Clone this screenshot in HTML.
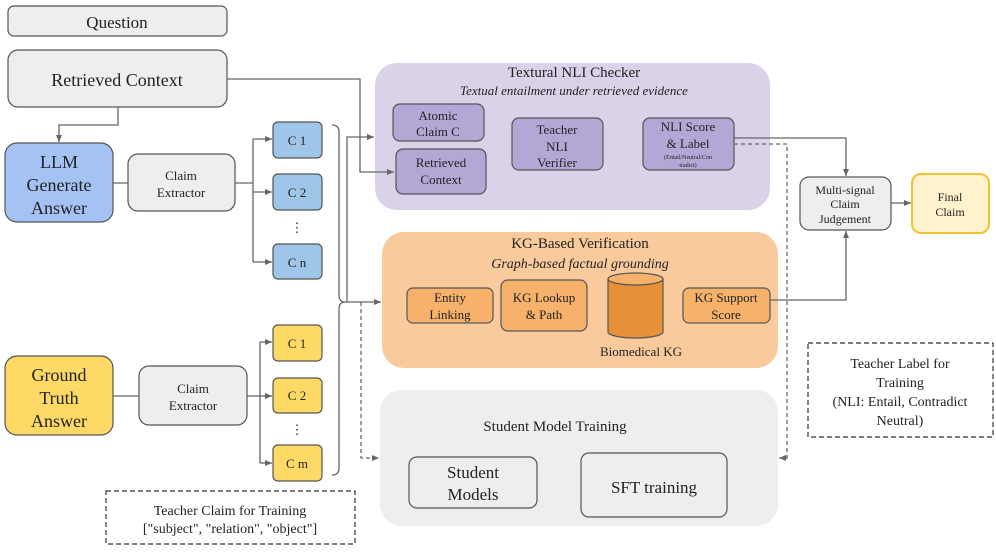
<!DOCTYPE html>
<html><head><meta charset="utf-8"><style>
body{margin:0;background:#fff}
svg text{font-family:"Liberation Serif",serif;fill:#222}
</style></head><body>
<svg width="996" height="550" viewBox="0 0 996 550" xmlns="http://www.w3.org/2000/svg">
<defs>
<marker id="a" markerWidth="8" markerHeight="8" refX="7" refY="4" orient="auto" markerUnits="userSpaceOnUse"><path d="M0,1 L7,4 L0,7 Z" fill="#666"/></marker>
</defs>
<!-- panels -->
<rect x="375" y="63" width="395" height="147" rx="22" fill="#d9d2e9"/>
<rect x="382" y="232" width="396" height="136" rx="22" fill="#f9cb9c"/>
<rect x="380" y="390" width="398" height="136" rx="22" fill="#eeeeee"/>
<g stroke="#555" stroke-width="1.2">
<rect x="8" y="6" width="219" height="30" rx="6" fill="#eeeeee"/>
<rect x="8" y="50" width="219" height="57" rx="10" fill="#eeeeee"/>
<rect x="5" y="143" width="108" height="79" rx="12" fill="#a4c2f4"/>
<rect x="128" y="154" width="107" height="57" rx="10" fill="#eeeeee"/>
<rect x="273" y="122" width="49" height="36" rx="5" fill="#9fc5e8"/>
<rect x="273" y="174" width="49" height="36" rx="5" fill="#9fc5e8"/>
<rect x="273" y="244" width="49" height="35" rx="5" fill="#9fc5e8"/>
<rect x="5" y="356" width="108" height="79" rx="12" fill="#ffd966"/>
<rect x="139" y="366" width="108" height="59" rx="10" fill="#eeeeee"/>
<rect x="273" y="325" width="49" height="36" rx="5" fill="#ffd966"/>
<rect x="273" y="378" width="49" height="35" rx="5" fill="#ffd966"/>
<rect x="273" y="445" width="49" height="36" rx="5" fill="#ffd966"/>
<rect x="393" y="104" width="91" height="37" rx="7" fill="#b4a7d6"/>
<rect x="396" y="149" width="90" height="45" rx="7" fill="#b4a7d6"/>
<rect x="512" y="118" width="91" height="52" rx="7" fill="#b4a7d6"/>
<rect x="643" y="118" width="91" height="52" rx="7" fill="#b4a7d6"/>
<rect x="407" y="288" width="86" height="35" rx="6" fill="#f6b26b"/>
<rect x="501" y="280" width="86" height="51" rx="7" fill="#f6b26b"/>
<rect x="683" y="288" width="87" height="35" rx="6" fill="#f6b26b"/>
<rect x="800" y="177" width="91" height="53" rx="9" fill="#eeeeee"/>
<rect x="409" y="457" width="128" height="51" rx="8" fill="#eeeeee"/>
<rect x="581" y="453" width="146" height="64" rx="8" fill="#eeeeee"/>
</g>
<rect x="912" y="174" width="77" height="59" rx="9" fill="#fff2cc" stroke="#f1c232" stroke-width="2"/>
<!-- cylinder -->
<path d="M608,279 L608,332 A27.5,6 0 0 0 663,332 L663,279" fill="#e69138" stroke="#555" stroke-width="1.2"/>
<ellipse cx="635.5" cy="279" rx="27.5" ry="6" fill="#f6b26b" stroke="#555" stroke-width="1.2"/>
<!-- dashed boxes -->
<g fill="none" stroke="#333" stroke-width="1.2" stroke-dasharray="5,3">
<rect x="808" y="343" width="185" height="94"/>
<rect x="106" y="491" width="249" height="53"/>
</g>
<!-- connectors -->
<g fill="none" stroke="#666" stroke-width="1.3">
<path d="M227,79 H360 V172 H394" marker-end="url(#a)"/>
<path d="M118,107 V125 H59 V142" marker-end="url(#a)"/>
<path d="M113,183 H128 M235,183 H253"/>
<path d="M253,139 V262"/>
<path d="M253,139 H272" marker-end="url(#a)"/>
<path d="M253,192 H272" marker-end="url(#a)"/>
<path d="M253,262 H272" marker-end="url(#a)"/>
<path d="M113,396 H139 M247,396 H260"/>
<path d="M260,342 V463"/>
<path d="M260,342 H272" marker-end="url(#a)"/>
<path d="M260,396 H272" marker-end="url(#a)"/>
<path d="M260,463 H272" marker-end="url(#a)"/>
<path d="M332,125 Q339,125 339,132 V295 Q339,302 345,302 Q339,302 339,309 V468 Q339,475 332,475"/>
<path d="M347,302 V137 H374" marker-end="url(#a)"/>
<path d="M345,302 H381" marker-end="url(#a)"/>
<path d="M734,138 H846 V176" marker-end="url(#a)"/>
<path d="M770,300 H846 V231" marker-end="url(#a)"/>
<path d="M891,203 H911" marker-end="url(#a)"/>
<path d="M361,302 V458 H379" stroke-dasharray="4,3" marker-end="url(#a)"/>
<path d="M734,144 H787 V458 H779" stroke-dasharray="4,3" marker-end="url(#a)"/>
</g>
<!-- text -->
<g text-anchor="middle">
<text x="117" y="28" font-size="17">Question</text>
<text x="117" y="86" font-size="18">Retrieved Context</text>
<text x="59" y="168" font-size="18">LLM</text>
<text x="59" y="191" font-size="18">Generate</text>
<text x="59" y="214" font-size="18">Answer</text>
<text x="181" y="180" font-size="13">Claim</text>
<text x="181" y="197" font-size="13">Extractor</text>
<text x="297" y="145" font-size="13">C 1</text>
<text x="297" y="197" font-size="13">C 2</text>
<text x="297" y="232" font-size="13">⋮</text>
<text x="297" y="267" font-size="13">C n</text>
<text x="59" y="381" font-size="18">Ground</text>
<text x="59" y="404" font-size="18">Truth</text>
<text x="59" y="427" font-size="18">Answer</text>
<text x="193" y="393" font-size="13">Claim</text>
<text x="193" y="410" font-size="13">Extractor</text>
<text x="297" y="348" font-size="13">C 1</text>
<text x="297" y="400" font-size="13">C 2</text>
<text x="297" y="434" font-size="13">⋮</text>
<text x="297" y="468" font-size="13">C m</text>
<text x="574" y="77" font-size="15">Textural NLI Checker</text>
<text x="574" y="95" font-size="13" font-style="italic">Textual entailment under retrieved evidence</text>
<text x="438" y="120" font-size="13">Atomic</text>
<text x="438" y="136" font-size="13">Claim  C</text>
<text x="441" y="167" font-size="13">Retrieved</text>
<text x="441" y="184" font-size="13">Context</text>
<text x="557" y="134" font-size="13">Teacher</text>
<text x="557" y="151" font-size="13">NLI</text>
<text x="557" y="167" font-size="13">Verifier</text>
<text x="688" y="131" font-size="13">NLI Score</text>
<text x="688" y="148" font-size="13">&amp; Label</text>
<text x="688" y="159" font-size="6">(Entail/Neutral/Con</text>
<text x="688" y="167" font-size="6">tradict)</text>
<text x="580" y="248" font-size="15">KG-Based Verification</text>
<text x="580" y="268" font-size="14" font-style="italic">Graph-based factual grounding</text>
<text x="450" y="302" font-size="13">Entity</text>
<text x="450" y="319" font-size="13">Linking</text>
<text x="544" y="302" font-size="13">KG Lookup</text>
<text x="544" y="319" font-size="13">&amp; Path</text>
<text x="641" y="356" font-size="13">Biomedical KG</text>
<text x="726" y="302" font-size="13">KG Support</text>
<text x="726" y="319" font-size="13">Score</text>
<text x="845" y="194" font-size="12">Multi-signal</text>
<text x="845" y="208" font-size="12">Claim</text>
<text x="845" y="223" font-size="12">Judgement</text>
<text x="950" y="201" font-size="12">Final</text>
<text x="950" y="216" font-size="12">Claim</text>
<text x="900" y="368" font-size="14">Teacher Label for</text>
<text x="900" y="387" font-size="14">Training</text>
<text x="900" y="406" font-size="14">(NLI: Entail, Contradict</text>
<text x="900" y="425" font-size="14">Neutral)</text>
<text x="555" y="431" font-size="15">Student Model Training</text>
<text x="473" y="478" font-size="17">Student</text>
<text x="473" y="500" font-size="17">Models</text>
<text x="654" y="493" font-size="17">SFT training</text>
<text x="230" y="515" font-size="14">Teacher Claim for Training</text>
<text x="230" y="533" font-size="14">["subject", "relation", "object"]</text>
</g>
</svg>
</body></html>
